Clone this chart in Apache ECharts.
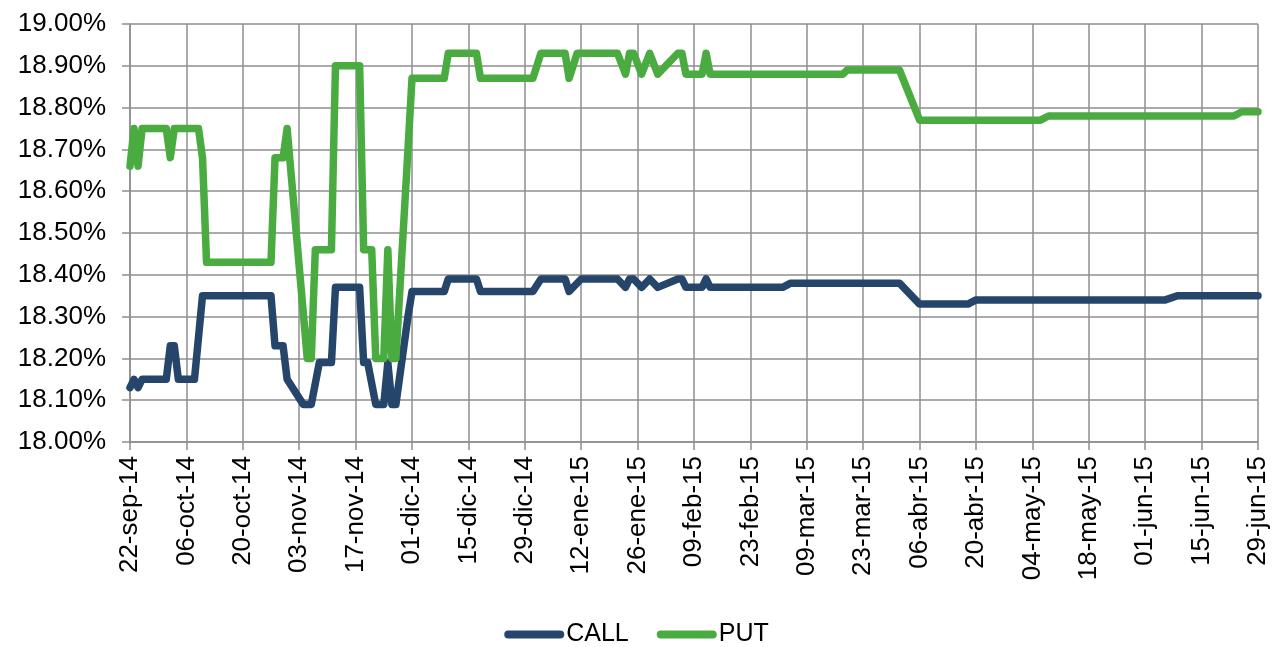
<!DOCTYPE html>
<html>
<head>
<meta charset="utf-8">
<script src="https://cdn.jsdelivr.net/npm/echarts@6/dist/echarts.min.js"></script>
<style>
  html, body { margin: 0; padding: 0; background: #ffffff; }
  #chart { width: 1273px; height: 647px; }
</style>
</head>
<body>
<div id="chart"></div>
<script>
// Spanish month abbreviations used in the date labels
const monthNames = ['ene', 'feb', 'mar', 'abr', 'may', 'jun', 'jul', 'ago', 'sep', 'oct', 'nov', 'dic'];

// Axis range: 22-sep-14 to 29-jun-15, labelled every 14 days
const startDate = '2014-09-22';
const endDate = '2015-06-29';
const tickStepDays = 14;

// Y axis range (percent)
const yMin = 18.0;
const yMax = 19.0;
const yStep = 0.1;

// CALL series: dates where the line changes and the rate on that date (%)
const callDates = [
  '2014-09-22', '2014-09-23', '2014-09-24', '2014-09-25', '2014-10-01', '2014-10-02', '2014-10-03',
  '2014-10-04', '2014-10-08', '2014-10-10', '2014-10-27', '2014-10-28', '2014-10-30', '2014-10-31',
  '2014-11-04', '2014-11-06', '2014-11-08', '2014-11-11', '2014-11-12', '2014-11-18', '2014-11-19',
  '2014-11-20', '2014-11-22', '2014-11-24', '2014-11-25', '2014-11-26', '2014-11-27', '2014-11-30',
  '2014-12-01', '2014-12-09', '2014-12-10', '2014-12-17', '2014-12-18', '2014-12-31', '2015-01-02',
  '2015-01-08', '2015-01-09', '2015-01-12', '2015-01-21', '2015-01-23', '2015-01-24', '2015-01-25',
  '2015-01-27', '2015-01-29', '2015-01-31', '2015-02-05', '2015-02-06', '2015-02-07', '2015-02-11',
  '2015-02-12', '2015-02-13', '2015-03-03', '2015-03-05', '2015-04-01', '2015-04-06', '2015-04-18',
  '2015-04-20', '2015-06-06', '2015-06-09', '2015-06-29'
];
const callValues = [
  18.13, 18.15, 18.13, 18.15, 18.15, 18.23, 18.23,
  18.15, 18.15, 18.35, 18.35, 18.23, 18.23, 18.15,
  18.09, 18.09, 18.19, 18.19, 18.37, 18.37, 18.19,
  18.19, 18.09, 18.09, 18.19, 18.09, 18.09, 18.30,
  18.36, 18.36, 18.39, 18.39, 18.36, 18.36, 18.39,
  18.39, 18.36, 18.39, 18.39, 18.37, 18.39, 18.39,
  18.37, 18.39, 18.37, 18.39, 18.39, 18.37, 18.37,
  18.39, 18.37, 18.37, 18.38, 18.38, 18.33, 18.33,
  18.34, 18.34, 18.35, 18.35
];

// PUT series
const putDates = [
  '2014-09-22', '2014-09-23', '2014-09-24', '2014-09-25', '2014-10-01', '2014-10-02', '2014-10-03',
  '2014-10-09', '2014-10-10', '2014-10-11', '2014-10-27', '2014-10-28', '2014-10-30', '2014-10-31',
  '2014-11-05', '2014-11-06', '2014-11-07', '2014-11-11', '2014-11-12', '2014-11-18', '2014-11-19',
  '2014-11-21', '2014-11-22', '2014-11-24', '2014-11-25', '2014-11-26', '2014-11-27', '2014-11-30',
  '2014-12-01', '2014-12-09', '2014-12-10', '2014-12-17', '2014-12-18', '2014-12-31', '2015-01-02',
  '2015-01-08', '2015-01-09', '2015-01-11', '2015-01-21', '2015-01-23', '2015-01-24', '2015-01-25',
  '2015-01-27', '2015-01-29', '2015-01-31', '2015-02-05', '2015-02-06', '2015-02-07', '2015-02-11',
  '2015-02-12', '2015-02-13', '2015-03-18', '2015-03-19', '2015-04-01', '2015-04-06', '2015-05-06',
  '2015-05-08', '2015-06-23', '2015-06-25', '2015-06-29'
];
const putValues = [
  18.66, 18.75, 18.66, 18.75, 18.75, 18.68, 18.75,
  18.75, 18.68, 18.43, 18.43, 18.68, 18.68, 18.75,
  18.20, 18.20, 18.46, 18.46, 18.90, 18.90, 18.46,
  18.46, 18.20, 18.20, 18.46, 18.20, 18.20, 18.70,
  18.87, 18.87, 18.93, 18.93, 18.87, 18.87, 18.93,
  18.93, 18.87, 18.93, 18.93, 18.88, 18.93, 18.93,
  18.88, 18.93, 18.88, 18.93, 18.93, 18.88, 18.88,
  18.93, 18.88, 18.88, 18.89, 18.89, 18.77, 18.77,
  18.78, 18.78, 18.79, 18.79
];

const DAY_MS = 86400000;
function toUTC(s) {
  const p = s.split('-').map(Number);
  return Date.UTC(p[0], p[1] - 1, p[2]);
}
const origin = toUTC(startDate);
const totalDays = (toUTC(endDate) - origin) / DAY_MS;

// Day offset from the first date, used as the x value
function dayOffset(s) { return (toUTC(s) - origin) / DAY_MS; }

function dateLabel(offset) {
  const d = new Date(origin + Math.round(offset) * DAY_MS);
  const dd = String(d.getUTCDate()).padStart(2, '0');
  const yy = String(d.getUTCFullYear() % 100).padStart(2, '0');
  return dd + '-' + monthNames[d.getUTCMonth()] + '-' + yy;
}

function pairs(dates, values) {
  return dates.map((s, i) => [dayOffset(s), values[i]]);
}

const gridColor = '#8e8e8e';
const fontFamily = '"Liberation Sans", Arial, sans-serif';

const chart = echarts.init(document.getElementById('chart'), null, { renderer: 'canvas' });
chart.setOption({
  animation: false,
  backgroundColor: '#ffffff',
  grid: { left: 130, right: 15, top: 24, bottom: 205, containLabel: false },
  legend: {
    data: ['CALL', 'PUT'],
    left: 'center',
    top: 617,
    itemWidth: 60,
    itemHeight: 8,
    itemGap: 28,
    icon: 'path://M4,0 L56,0 A4,4 0 0 1 56,8 L4,8 A4,4 0 0 1 4,0 Z',
    textStyle: { fontFamily: fontFamily, fontSize: 25, color: '#000000', padding: [0, 0, 0, -3] }
  },
  xAxis: {
    type: 'value',
    min: 0,
    max: totalDays,
    interval: tickStepDays,
    axisLine: { show: true, lineStyle: { color: gridColor, width: 1.5 } },
    axisTick: { show: true, length: 8, lineStyle: { color: gridColor, width: 1.5 } },
    splitLine: { show: true, lineStyle: { color: gridColor, width: 1.5 } },
    axisLabel: {
      rotate: 90,
      margin: 14,
      fontFamily: fontFamily,
      fontSize: 26,
      color: '#000000',
      formatter: (v) => dateLabel(v)
    }
  },
  yAxis: {
    type: 'value',
    min: yMin,
    max: yMax,
    interval: yStep,
    axisLine: { show: true, lineStyle: { color: gridColor, width: 1.5 } },
    axisTick: { show: true, length: 8, lineStyle: { color: gridColor, width: 1.5 } },
    splitLine: { show: true, lineStyle: { color: gridColor, width: 1.5 } },
    axisLabel: {
      margin: 24,
      fontFamily: fontFamily,
      fontSize: 26,
      color: '#000000',
      formatter: (v) => v.toFixed(2) + '%'
    }
  },
  series: [
    {
      name: 'CALL',
      type: 'line',
      data: pairs(callDates, callValues),
      showSymbol: false,
      symbol: 'none',
      color: '#26456a',
      lineStyle: { width: 7.5, color: '#26456a', cap: 'round', join: 'round' },
      z: 3
    },
    {
      name: 'PUT',
      type: 'line',
      data: pairs(putDates, putValues),
      showSymbol: false,
      symbol: 'none',
      color: '#4aab41',
      lineStyle: { width: 7.5, color: '#4aab41', cap: 'round', join: 'round' },
      z: 4
    }
  ]
});
</script>
</body>
</html>
